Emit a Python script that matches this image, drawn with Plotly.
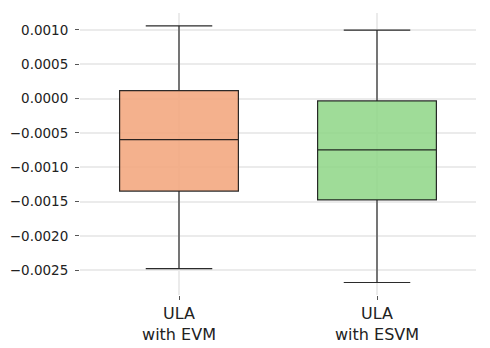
import plotly.graph_objects as go

categories = ["ULA<br>with EVM", "ULA<br>with ESVM"]
upper_whisker = [0.00106, 0.000997]
q3_values = [0.000116, -0.000034]
median_values = [-0.000597, -0.000747]
q1_values = [-0.001346, -0.001475]
lower_whisker = [-0.002475, -0.002678]
fill_colors = ["rgba(242,166,125,0.88)", "rgba(142,214,134,0.85)"]

tick_vals = [0.0010, 0.0005, 0.0, -0.0005, -0.0010, -0.0015, -0.0020, -0.0025]
tick_text = [("−" if v < 0 else "") + f"{abs(v):.4f}" for v in tick_vals]

fig = go.Figure()
for i, cat in enumerate(categories):
    fig.add_trace(go.Box(
        x=[cat],
        q1=[q1_values[i]],
        median=[median_values[i]],
        q3=[q3_values[i]],
        lowerfence=[lower_whisker[i]],
        upperfence=[upper_whisker[i]],
        fillcolor=fill_colors[i],
        line=dict(color="rgba(20,20,20,0.9)", width=1.2),
        width=0.6,
        whiskerwidth=0.56,
        boxpoints=False,
        showlegend=False,
        hoverinfo="skip",
    ))

# the page body has an 8px default margin, so the figure is 8px smaller
fig.update_layout(
    width=482, height=340,
    margin=dict(l=72, r=14, t=5, b=53),
    paper_bgcolor="white",
    plot_bgcolor="white",
    font=dict(family="DejaVu Sans", color="#222222"),
    showlegend=False,
)
fig.update_xaxes(
    range=[-0.5, 1.5], automargin=False,
    showgrid=True, gridcolor="#EBEBEB", gridwidth=1.5,
    ticks="outside", ticklen=4, tickcolor="#555555", tickwidth=1,
    tickfont=dict(size=16, family="DejaVu Sans", color="#222222"),
    showline=False, zeroline=False,
)
fig.update_yaxes(
    range=[-0.002860, 0.001247], automargin=False,
    tickmode="array", tickvals=tick_vals, ticktext=tick_text,
    showgrid=True, gridcolor="#EBEBEB", gridwidth=1.5,
    ticks="outside", ticklen=4, tickcolor="#555555", tickwidth=1,
    ticklabelstandoff=4,
    tickfont=dict(size=13.5, family="DejaVu Sans", color="#222222"),
    showline=False, zeroline=False,
)

fig.write_html("out.html")
